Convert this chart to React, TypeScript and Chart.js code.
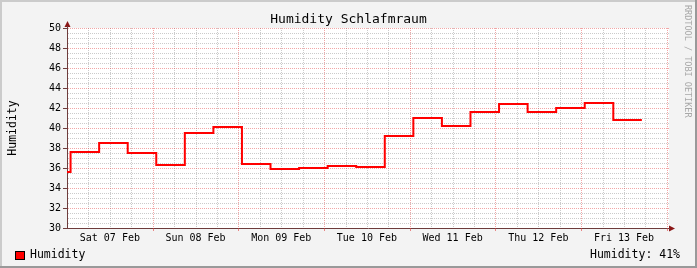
import React, { useEffect, useRef } from 'react';
import { Chart, registerables } from 'chart.js';

Chart.register(...registerables);

const TITLE = 'Humidity Schlafmraum';
const Y_TITLE = 'Humidity';
const WATERMARK = 'RRDTOOL / TOBI OETIKER';
const SERIES_NAME = 'Humidity';
const CURRENT_LABEL = 'Humidity: 41%';

const dayLabels = ['Sat 07 Feb', 'Sun 08 Feb', 'Mon 09 Feb', 'Tue 10 Feb', 'Wed 11 Feb', 'Thu 12 Feb', 'Fri 13 Feb'];
const dayLabelHours = [12, 36, 60, 84, 108, 132, 156];

// hours since Sat 07 Feb 00:00 where each value starts
const stepHours = [0, 1, 9, 17, 25, 33, 41, 49, 57, 65, 73, 81, 89, 97, 105, 113, 121, 129, 137, 145, 153, 161];
const humidity = [35.6, 37.6, 38.5, 37.5, 36.3, 39.5, 40.1, 36.4, 35.9, 36.0, 36.2, 36.1, 39.2, 41.0, 40.2, 41.6, 42.4, 41.6, 42.0, 42.5, 40.8, 40.8];

const Y_MIN = 30;
const Y_MAX = 50;
const Y_STEP = 2;
const X_MIN = 0;
const X_MAX = 168.6;

const FONT = '"DejaVu Sans Mono", monospace';
const AXIS_COLOR = '#6e3c3c';
const ARROW_COLOR = '#8a1616';
const MINOR_GRID = 'rgba(140,140,140,0.45)';
const MAJOR_GRID = 'rgba(225,60,60,0.45)';

const rrdPlugin = {
  id: 'rrdDecor',
  beforeDraw(chart: any) {
    const { ctx, width, height, chartArea: a } = chart;
    ctx.save();
    ctx.fillStyle = '#f3f3f3';
    ctx.fillRect(0, 0, width, height);
    ctx.fillStyle = '#cbcbcb';
    ctx.fillRect(0, 0, width, 2);
    ctx.fillRect(0, 0, 2, height);
    ctx.fillStyle = '#999999';
    ctx.fillRect(0, height - 2, width, 2);
    ctx.fillRect(width - 2, 0, 2, height);
    ctx.fillStyle = '#ffffff';
    ctx.fillRect(a.left, a.top, a.right - a.left, a.bottom - a.top);
    ctx.restore();
  },
  beforeDatasetsDraw(chart: any) {
    const { ctx, chartArea: a, scales } = chart;
    const x = scales.x;
    const y = scales.y;
    ctx.save();
    ctx.lineWidth = 1;
    ctx.setLineDash([1, 1]);
    const drawH = (v: number, color: string) => {
      const py = Math.round(y.getPixelForValue(v)) + 0.5;
      ctx.strokeStyle = color;
      ctx.beginPath();
      ctx.moveTo(a.left + 1, py);
      ctx.lineTo(a.right, py);
      ctx.stroke();
    };
    const drawV = (h: number, color: string) => {
      const px = Math.round(x.getPixelForValue(h)) + 0.5;
      ctx.strokeStyle = color;
      ctx.beginPath();
      ctx.moveTo(px, a.top);
      ctx.lineTo(px, a.bottom);
      ctx.stroke();
    };
    for (let i = 1; i < (Y_MAX - Y_MIN) * 2; i++) {
      if (i % 4 !== 0) drawH(Y_MIN + i * 0.5, MINOR_GRID);
    }
    for (let h = 6; h <= X_MAX; h += 6) {
      if (h % 24 !== 0) drawV(h, MINOR_GRID);
    }
    for (let i = 1; i <= (Y_MAX - Y_MIN) * 2; i++) {
      if (i % 4 === 0) drawH(Y_MIN + i * 0.5, MAJOR_GRID);
    }
    for (let h = 24; h <= X_MAX; h += 24) {
      drawV(h, MAJOR_GRID);
    }
    ctx.setLineDash([]);
    ctx.strokeStyle = 'rgba(225,60,60,0.6)';
    for (let h = 24; h <= X_MAX; h += 24) {
      const px = Math.round(x.getPixelForValue(h)) + 0.5;
      ctx.beginPath();
      ctx.moveTo(px, a.bottom);
      ctx.lineTo(px, a.bottom + 3);
      ctx.stroke();
    }
    ctx.restore();
  },
  afterDraw(chart: any) {
    const { ctx, chartArea: a, width } = chart;
    ctx.save();
    ctx.fillStyle = ARROW_COLOR;
    const ax = Math.round(a.left) + 0.5;
    ctx.beginPath();
    ctx.moveTo(ax, a.top - 7);
    ctx.lineTo(ax - 3, a.top - 1);
    ctx.lineTo(ax + 3, a.top - 1);
    ctx.closePath();
    ctx.fill();
    const ay = Math.round(a.bottom) + 0.5;
    ctx.beginPath();
    ctx.moveTo(a.right + 6, ay);
    ctx.lineTo(a.right, ay - 3);
    ctx.lineTo(a.right, ay + 3);
    ctx.closePath();
    ctx.fill();
    ctx.strokeStyle = AXIS_COLOR;
    ctx.lineWidth = 1;
    ctx.beginPath();
    ctx.moveTo(ax, a.top - 2);
    ctx.lineTo(ax, a.top);
    ctx.moveTo(a.right, ay);
    ctx.lineTo(a.right + 1, ay);
    ctx.stroke();

    ctx.fillStyle = '#000';
    ctx.textBaseline = 'middle';
    ctx.textAlign = 'center';
    ctx.font = `13px ${FONT}`;
    ctx.fillText(TITLE, width / 2, 20);

    ctx.save();
    ctx.translate(13, 128);
    ctx.rotate(-Math.PI / 2);
    ctx.font = `11.5px ${FONT}`;
    ctx.textAlign = 'center';
    ctx.fillText(Y_TITLE, 0, 0);
    ctx.restore();

    ctx.save();
    ctx.translate(687, 5);
    ctx.rotate(Math.PI / 2);
    ctx.font = `8.5px ${FONT}`;
    ctx.fillStyle = '#a8a8a8';
    ctx.textAlign = 'left';
    ctx.fillText(WATERMARK, 0, 0);
    ctx.restore();

    const color = chart.data.datasets[0].borderColor;
    ctx.fillStyle = color;
    ctx.fillRect(16, 252, 8, 7);
    ctx.strokeStyle = '#000';
    ctx.lineWidth = 1;
    ctx.strokeRect(15.5, 251.5, 9, 8);
    ctx.fillStyle = '#000';
    ctx.font = `11.5px ${FONT}`;
    ctx.textAlign = 'left';
    ctx.fillText(SERIES_NAME, 30, 255);
    ctx.textAlign = 'right';
    ctx.fillText(CURRENT_LABEL, 680, 255);
    ctx.restore();
  },
};

export default function App() {
  const ref = useRef<HTMLCanvasElement | null>(null);

  useEffect(() => {
    if (!ref.current) return;
    Chart.defaults.font.family = FONT;
    const points = stepHours.map((h, i) => ({ x: h, y: humidity[i] }));
    const chart = new Chart(ref.current, {
      type: 'line',
      data: {
        datasets: [
          {
            label: SERIES_NAME,
            data: points,
            borderColor: '#ff0000',
            borderWidth: 2,
            stepped: 'before',
            pointRadius: 0,
            fill: false,
          },
        ],
      },
      options: {
        animation: false,
        responsive: false,
        devicePixelRatio: 1,
        layout: { padding: { left: 0, top: 28, right: 28, bottom: 0 } },
        plugins: {
          legend: { display: false },
          title: { display: false },
          tooltip: { enabled: false },
        },
        scales: {
          x: {
            type: 'linear',
            min: X_MIN,
            max: X_MAX,
            afterFit: (s: any) => {
              s.height = 40;
            },
            afterBuildTicks: (s: any) => {
              s.ticks = dayLabelHours.map((v) => ({ value: v }));
            },
            ticks: {
              autoSkip: false,
              maxRotation: 0,
              padding: 4,
              color: '#000',
              font: { size: 10, family: FONT },
              callback: (_v: any, i: number) => dayLabels[i],
            },
            grid: { display: true, drawOnChartArea: false, drawTicks: false },
            border: { display: true, color: AXIS_COLOR, width: 1 },
          },
          y: {
            type: 'linear',
            min: Y_MIN,
            max: Y_MAX,
            afterFit: (s: any) => {
              s.width = 67;
            },
            ticks: {
              stepSize: Y_STEP,
              padding: 2,
              color: '#000',
              font: { size: 10, family: FONT },
            },
            grid: {
              display: true,
              drawOnChartArea: false,
              drawTicks: true,
              tickLength: 4,
              tickColor: AXIS_COLOR,
              color: AXIS_COLOR,
            },
            border: { display: true, color: AXIS_COLOR, width: 1 },
          },
        },
      },
      plugins: [rrdPlugin],
    });
    return () => chart.destroy();
  }, []);

  return (
    <div style={{ position: 'absolute', left: 0, top: 0, width: 697, height: 268 }}>
      <canvas ref={ref} width={697} height={268} style={{ display: 'block' }} />
    </div>
  );
}
